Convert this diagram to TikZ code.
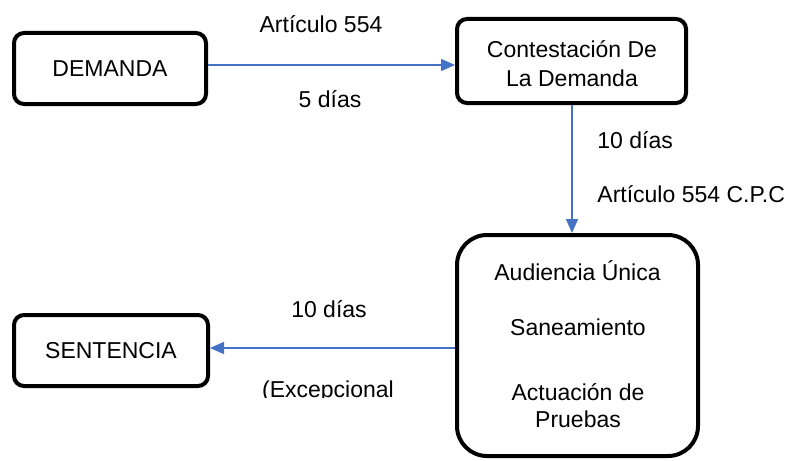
\documentclass[tikz,border=0pt]{standalone}
\usepackage{fontspec}
\setmainfont{Liberation Sans}
\usetikzlibrary{arrows.meta}
\definecolor{arrblue}{RGB}{68,114,196}
\begin{document}
\begin{tikzpicture}[x=0.5pt,y=-0.5pt,
  font=\fontsize{11.5}{14}\selectfont,
  box/.style={draw=black,line width=2pt,rounded corners=5pt,inner sep=0pt,fill=white},
  bigbox/.style={box,rounded corners=15pt},
  txt/.style={inner sep=0pt,anchor=base},
  txtl/.style={inner sep=0pt,anchor=base west},
  arr/.style={draw=arrblue,line width=0.75pt,-{Triangle[length=7pt,width=6pt]}}]
\useasboundingbox (0,0) rectangle (795,460);
% boxes
\node[box,minimum width=96pt,minimum height=35.5pt] (D) at (110,68.5) {DEMANDA};
\node[box,minimum width=114.5pt,minimum height=42pt] (C) at (571.5,61) {};
\node[bigbox,minimum width=120.5pt,minimum height=110.5pt] (A) at (577.5,345.5) {};
\node[box,minimum width=97pt,minimum height=35.5pt] (S) at (111,350.5) {SENTENCIA};
% box texts
\node[txt] (c1) at (572,58) {Contestación De};
\node[txt] (c2) at (572,86) {La Demanda};
\node[txt] (a1) at (577.5,280) {Audiencia Única};
\node[txt] (a2) at (578,335) {Saneamiento};
\node[txt] (a3) at (578,400) {Actuación de};
\node[txt] (a4) at (578,427) {Pruebas};
% connectors
\draw[arr] (D.east |- 0,65) -- (C.west |- 0,65);
\draw[arr] (C.south -| 572,0) -- (A.north -| 572,0);
\draw[arr] (A.west |- 0,348) -- (S.east |- 0,348);
% labels
\node[txt] (l1) at (321,33) {Artículo 554};
\node[txt] (l2) at (330,107) {5 días};
\node[txtl] (l3) at (597,148) {10 días};
\node[txtl] (l4) at (597,202) {Artículo 554 C.P.C};
\node[txt] (l5) at (329,317) {10 días};
\begin{scope}
\clip (220,360) rectangle (440,397);
\node[txt] (l6) at (328,397) {(Excepcional};
\end{scope}
\end{tikzpicture}
\end{document}
